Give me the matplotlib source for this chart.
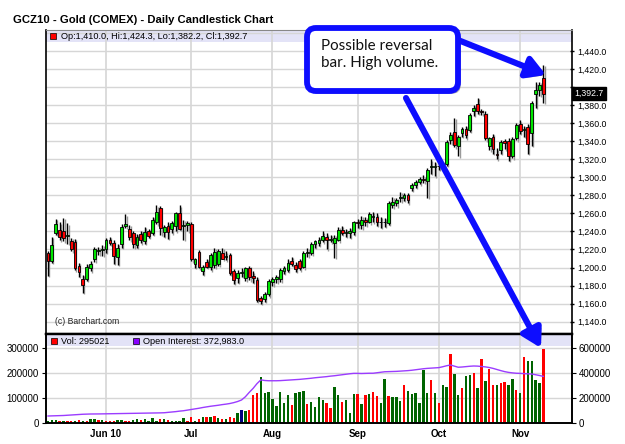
import numpy as np
import pandas as pd
import matplotlib
matplotlib.use("Agg")
import matplotlib.pyplot as plt
from matplotlib.patches import Rectangle, FancyBboxPatch, FancyArrowPatch
import matplotlib.patheffects as pe

plt.rcParams['font.family'] = ['Liberation Sans', 'DejaVu Sans']

# ---------------- data ----------------
title = "GCZ10 - Gold (COMEX) - Daily Candlestick Chart"
start_date, end_date = "2010-05-10", "2010-11-09"
holidays = ["2010-05-31", "2010-07-05", "2010-09-06"]

opens = [1216,1207,1238,1242,1240,1235,1229,1228,1202,1187, 1187,1199,1209,1218,1219,1220,1231,1227,1212,1226,
         1246,1243,1238,1225,1237,1229,1240,1238,1251,1266, 1239,1246,1243,1246,1260,1246,1247,1248,1204,1217,
         1196,1206,1201,1203,1204,1216,1212,1214,1196,1188, 1194,1188,1199,1191,1186,1166,1165,1171,1184,1187,
         1187,1196,1197,1207,1203,1207,1201,1216,1216,1226, 1227,1230,1234,1231,1227,1231,1242,1238,1238,1239,
         1251,1247,1253,1251,1256,1256,1250,1250,1249,1269, 1271,1277,1277,1280,1288,1291,1295,1298,1296,1311,
         1311,1312,1313,1315,1341,1350,1335,1349,1353,1352, 1373,1381,1373,1370,1335,1345,1326,1330,1340,1340,
         1323,1344,1359,1352,1356,1349,1392,1397,1410.0]
highs = [1218,1234,1254,1250,1255,1249,1233,1232,1205,1192, 1204,1207,1223,1223,1225,1233,1234,1230,1226,1248,
         1259,1247,1240,1237,1241,1245,1243,1256,1269,1268, 1247,1250,1252,1262,1269,1253,1252,1250,1211,1219,
         1203,1210,1216,1222,1220,1222,1218,1216,1198,1197, 1199,1201,1202,1196,1190,1168,1173,1187,1189,1192,
         1199,1202,1209,1212,1206,1210,1218,1222,1228,1230, 1234,1240,1238,1236,1236,1245,1246,1243,1244,1252,
         1254,1257,1256,1261,1262,1260,1256,1255,1274,1278, 1277,1284,1283,1283,1294,1297,1300,1302,1310,1320,
         1317,1316,1317,1341,1350,1366,1347,1356,1357,1371, 1380,1388,1376,1373,1345,1348,1332,1341,1342,1343,
         1345,1360,1363,1357,1359,1384,1405,1406,1424.3]
lows = [1191,1205,1236,1230,1229,1226,1218,1197,1190,1172, 1185,1196,1206,1214,1213,1216,1225,1204,1203,1222,
        1244,1230,1222,1222,1227,1226,1233,1236,1248,1236, 1234,1232,1238,1240,1242,1231,1240,1207,1200,1199,
        1192,1200,1197,1200,1202,1209,1208,1192,1182,1183, 1190,1185,1186,1183,1162,1160,1162,1168,1180,1183,
        1184,1193,1195,1202,1195,1197,1199,1212,1214,1222, 1224,1228,1220,1228,1211,1229,1236,1234,1233,1236,
        1244,1243,1246,1249,1250,1246,1244,1245,1247,1266, 1268,1273,1274,1271,1285,1288,1292,1294,1277,1304,
        1301,1308,1309,1313,1337,1333,1323,1345,1343,1350, 1368,1370,1369,1341,1330,1326,1320,1326,1331,1318,
        1321,1341,1348,1345,1326,1335,1377,1390,1382.2]
closes = [1207,1225,1248,1234,1233,1236,1221,1199,1195,1181, 1201,1204,1220,1219,1220,1231,1227,1213,1222,1245,
          1248,1234,1226,1234,1230,1239,1235,1253,1262,1244, 1245,1239,1249,1260,1243,1247,1249,1210,1210,1201,
          1201,1201,1214,1217,1218,1210,1213,1194,1186,1194, 1195,1199,1189,1188,1164,1163,1171,1185,1187,1189,
          1197,1199,1205,1204,1198,1200,1216,1217,1226,1229, 1231,1235,1231,1232,1233,1242,1238,1239,1240,1250,
          1249,1253,1251,1259,1257,1251,1251,1250,1271,1273, 1275,1278,1280,1275,1291,1295,1298,1297,1308,1312,
          1312,1313,1315,1339,1347,1336,1345,1354,1347,1369, 1377,1373,1372,1344,1343,1331,1325,1339,1338,1323,
          1342,1358,1351,1354,1337,1382,1397,1402,1392.7]

volume = [8000,12000,12000,9300,9300,9300,9300,9300,12000,9300,
          9300,14700,14700,12000,12000,9300,9300,9300,12000,12000,
          9300,9300,12000,14700,12000,17300,9300,20000,9300,14700,
          17300,12000,9300,9300,9300,18700,9300,25300,9300,14700,
          22700,22700,25300,29300,20000,14700,14700,22700,18700,38700,
          52000,48000,52000,112000,121300,185300,118700,125300,94700,68000,
          125300,81300,112000,72000,121300,125300,128000,76000,85300,62700,
          105300,92000,81300,58700,142700,112000,85300,92000,41300,116000,
          116000,76000,112000,116000,125300,108000,81300,174700,108000,105300,
          105300,89300,152000,128000,114700,118700,81300,212000,121300,172000,
          118700,81300,152000,145300,276000,196000,112000,138700,189300,192000,
          201300,138700,256000,168000,216000,152000,152000,158700,162700,152000,
          174700,132000,121300,265300,248000,248000,172000,160000,295021]
# volume bar direction: g = up, r = down, n = unchanged
vol_dir = ("gggrgrrgrg" "rggrgrrrgg" "rrggrggggr" "grggggrrgr" "grgrgrgrrg"
           "ngrrrggggg" "gggrgggrgg" "ggrrggrggg" "rgrgrrggrg" "ggrggggggr"
           "grggrggrgg" "rgrgrrgrrg" "grgrggggr")
open_interest = [56000,57000,58000,59000,60000,62000,64000,66000,68000,70000,71000,72000,
                 72000,72500,73000,73500,74000,74500,75000,75500,76000,76500,77000,77500,78000,78500,79000,79500,80000,81000,82000,
                 85000,88000,91000,95000,98000,
                 103000,108000,113000,118000,124000,129000,
                 134000,138000,142000,147000,151000,156000,
                 163000,172000,184000,210000,245000,277000,315000,345000,
                 340000,338000,338000,338000,339000,
                 341000,343000,345000,347000,349000,
                 352000,355000,358000,362000,365000,
                 368000,371000,375000,378000,382000,386000,390000,394000,397000,
                 397000,396000,397000,398000,398000,402000,406000,410000,
                 411000,412000,413000,415000,417000,419000,
                 422000,426000,430000,434000,437000,439000,441000,443000,
                 450000,458000,464000,455000,446000,
                 448000,451000,454000,456000,
                 455000,452000,449000,444000,437000,
                 428000,419000,411000,405000,401000,398000,
                 397000,395000,393000,392000,386000,380000,372983]

price_ticks = list(range(1140, 1441, 20))
vol_ticks = [0, 100000, 200000, 300000]
oi_ticks = [0, 200000, 400000, 600000]
month_labels = ["Jun 10", "Jul", "Aug", "Sep", "Oct", "Nov"]
price_legend = "Op:1,410.0, Hi:1,424.3, Lo:1,382.2, Cl:1,392.7"
vol_legend = "Vol: 295021"
oi_legend = "Open Interest: 372,983.0"
last_price = 1392.7
copyright_text = "(c) Barchart.com"
callout_text = "Possible reversal\nbar. High volume."

# ---------------- derived ----------------
dates = pd.bdate_range(start_date, end_date)
dates = dates[~dates.isin(pd.to_datetime(holidays))]
n = len(dates)
assert n == len(opens) == len(volume) == len(open_interest) == len(vol_dir)
x = np.arange(n)
month_starts = [i for i in range(1, n) if dates[i].month != dates[i - 1].month]

o = np.array(opens); c = np.array(closes); h = np.array(highs); l = np.array(lows)

W, H = 625, 444
fig = plt.figure(figsize=(W / 100, H / 100), dpi=100)
fig.patch.set_facecolor("white")

def fx(px):
    return px / W

def fy(py):
    return 1 - py / H

L_PX, R_PX = 46, 572
TOP_PX, MID_PX, BOT_PX = 30, 334, 423
ax = fig.add_axes([fx(L_PX), fy(MID_PX), fx(R_PX) - fx(L_PX), fy(TOP_PX) - fy(MID_PX)])
axv = fig.add_axes([fx(L_PX), fy(BOT_PX), fx(R_PX) - fx(L_PX), fy(MID_PX) - fy(BOT_PX)])
axo = axv.twinx()

xlim = (-0.52, 135.4)
ylim = (1126.4, 1463.1)
grid_c = "#d6d6d6"

# ---- price panel ----
ax.set_xlim(*xlim)
ax.set_ylim(*ylim)
ax.set_axisbelow(True)
for p in range(1140, 1461, 20):
    ax.axhline(p, color=grid_c, lw=1.0, zorder=0.5)
for m in month_starts:
    ax.axvline(m, color=grid_c, lw=1.2, zorder=0.5)

up = c >= o
body_bottom = np.minimum(o, c)
body_h = np.maximum(np.abs(c - o), 0.6)
ax.vlines(x + 0.35, l - 1.5, h - 1.5, color="#9a9a9a", lw=1.0, zorder=1.5)  # soft shadow
ax.vlines(x, l, h, color="black", lw=1.0, zorder=2)
ax.bar(x, body_h, bottom=body_bottom, width=0.72,
       color=np.where(up, "#00e600", "#ff0000"), edgecolor="black", linewidth=0.6, zorder=3)

band_h = 12 / (MID_PX - TOP_PX)
ax.add_patch(Rectangle((0, 1 - band_h), 1, band_h, transform=ax.transAxes,
                       facecolor="#e3e3f7", edgecolor="none", zorder=0.3))

ax.yaxis.tick_right()
ax.set_yticks(price_ticks)
# the label at the last-price level is hidden behind the last-price box
ax.set_yticklabels(["" if abs(p - last_price) < 10 else f"{p:,.1f}" for p in price_ticks], fontsize=6.3)
ax.tick_params(axis="y", length=3, width=1, pad=2, direction="inout")
ax.set_xticks([])
for s in ["left", "right"]:
    ax.spines[s].set_color("black"); ax.spines[s].set_linewidth(1.2)
ax.spines["top"].set_color("#888888"); ax.spines["top"].set_linewidth(0.8)
ax.spines["bottom"].set_color("black"); ax.spines["bottom"].set_linewidth(1.6)

ax.text(1.005, (last_price - ylim[0]) / (ylim[1] - ylim[0]), f"{last_price:,.1f}",
        transform=ax.transAxes, fontsize=6.3, color="white", va="center", ha="left",
        bbox=dict(boxstyle="square,pad=0.25", fc="black", ec="black"), zorder=5, clip_on=False)
ax.text(9 / (R_PX - L_PX), 12 / (MID_PX - TOP_PX), copyright_text, transform=ax.transAxes,
        fontsize=6.2, color="#222222", va="center", ha="left")

# ---- volume panel ----
axv.set_xlim(*xlim)
axv.set_ylim(0, 356000)
axo.set_ylim(0, 712000)
axv.set_axisbelow(True)
for v in [100000, 200000, 300000]:
    axv.axhline(v, color=grid_c, lw=1.0, zorder=0.5)
for m in month_starts:
    axv.axvline(m, color=grid_c, lw=1.2, zorder=0.5)
vband_h = 12 / (BOT_PX - MID_PX)
axv.add_patch(Rectangle((0, 1 - vband_h), 1, vband_h, transform=axv.transAxes,
                        facecolor="#e3e3f7", edgecolor="none", zorder=0.3))
cmap = {"g": "#006400", "r": "#ff0000", "n": "#000080"}
axv.bar(x, volume, width=0.62, color=[cmap[d] for d in vol_dir], zorder=2)
axo.plot(x, open_interest, color="#9b3cff", lw=1.0, zorder=3)

axv.set_yticks(vol_ticks)
axv.set_yticklabels([str(v) for v in vol_ticks], fontsize=7)
axo.set_yticks(oi_ticks)
axo.set_yticklabels([str(v) for v in oi_ticks], fontsize=7)
axv.tick_params(axis="y", length=3, pad=2)
axo.tick_params(axis="y", length=3, pad=2)
axv.set_xticks(month_starts)
axv.set_xticklabels(month_labels, fontsize=7, fontweight="bold")
axv.tick_params(axis="x", length=0, pad=4)
for a in (axv, axo):
    for s in ["left", "right", "bottom"]:
        a.spines[s].set_color("black"); a.spines[s].set_linewidth(1.2)
    a.spines["top"].set_color("black"); a.spines["top"].set_linewidth(1.6)

# ---- legends / title ----
def sq(xp, yp, color, size=6):
    fig.add_artist(Rectangle((xp / 100, (H - yp - size) / 100), size / 100, size / 100,
                             transform=fig.dpi_scale_trans, facecolor=color,
                             edgecolor="black", linewidth=0.5, zorder=6))

fig.text(fx(13), fy(20), title, fontsize=8.1, fontweight="bold", va="center", ha="left")
sq(50, 33, "#ff0000")
fig.text(fx(61), fy(36.5), price_legend, fontsize=6.6, va="center", ha="left")
sq(51, 338, "#ff0000")
fig.text(fx(61), fy(341.5), vol_legend, fontsize=6.6, va="center", ha="left")
sq(133, 338, "#8800ff")
fig.text(fx(143), fy(341.5), oi_legend, fontsize=6.6, va="center", ha="left")

# ---- callout ----
blue = "#0d0dff"
shadow = [pe.SimplePatchShadow(offset=(2, -2), shadow_rgbFace="#555555", alpha=0.5), pe.Normal()]
box = FancyBboxPatch((307 / 100, (H - 91) / 100), 151 / 100, 63 / 100,
                     boxstyle="round,pad=0,rounding_size=0.09", transform=fig.dpi_scale_trans,
                     facecolor="white", edgecolor=blue, linewidth=4.2, zorder=20,
                     path_effects=shadow)
fig.add_artist(box)
fig.text(fx(321), fy(39), callout_text, fontsize=10.9, family=["Lato", "DejaVu Sans"],
         va="top", ha="left", linespacing=1.3, zorder=21, color="#111111")

def arrow(x0, y0, x1, y1):
    a = FancyArrowPatch((x0 / 100, (H - y0) / 100), (x1 / 100, (H - y1) / 100),
                        transform=fig.dpi_scale_trans,
                        arrowstyle="-|>,head_length=0.55,head_width=0.32", mutation_scale=20,
                        color=blue, linewidth=4.4, zorder=19, shrinkA=0, shrinkB=0,
                        path_effects=shadow)
    fig.add_artist(a)

arrow(458, 40, 546, 75)
arrow(406, 98, 541, 348)

fig.savefig("out.png", dpi=100)
